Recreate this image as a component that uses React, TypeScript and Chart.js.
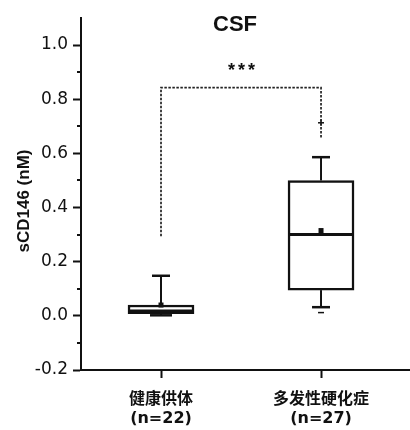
import React, { useEffect, useRef } from 'react';
import { Chart, registerables } from 'chart.js';

Chart.register(...registerables);

// ---- data ----
const categories = ['健康供体', '多发性硬化症'];
const sampleSizes = ['(n=22)', '(n=27)'];
const positions = [1, 2];
const q1 = [0.008, 0.095];
const medians = [0.018, 0.3];
const q3 = [0.04, 0.5];
const whiskerLow = [0.002, 0.032];
const whiskerHigh = [0.148, 0.586];
const means = [0.04, 0.315];
const minMarks: (number | null)[] = [null, 0.012];
const maxMarks: (number | null)[] = [null, 0.713];
const bracketLeft = 0.294;
const bracketTop = 0.843;
const bracketRight = 0.659;
const sigLabel = '***';
const chartTitle = 'CSF';
const yTitle = 'sCD146 (nM)';
const yTickValues = [-0.2, -0.1, 0, 0.1, 0.2, 0.3, 0.4, 0.5, 0.6, 0.7, 0.8, 0.9, 1.0];
const yMin = -0.2;
const yMax = 1.1;
const xMin = 0.5;
const xMax = 2.556;

const isMajor = (v: number) => Math.round(v * 10) % 2 === 0;
const INK = '#111';

const extrasPlugin = {
  id: 'boxExtras',
  afterDatasetsDraw(chart: any) {
    const { ctx, scales } = chart;
    const x = scales.x;
    const y = scales.y;
    const py = (v: number) => y.getPixelForValue(v);
    const line = (x1: number, y1: number, x2: number, y2: number) => {
      ctx.beginPath();
      ctx.moveTo(x1, y1);
      ctx.lineTo(x2, y2);
      ctx.stroke();
    };
    ctx.save();
    ctx.strokeStyle = INK;
    ctx.fillStyle = INK;
    positions.forEach((p, i) => {
      const cx = x.getPixelForValue(p);
      const half = 33;
      // whiskers
      ctx.lineWidth = 2;
      line(cx, py(q3[i]), cx, py(whiskerHigh[i]));
      line(cx, py(q1[i]), cx, py(whiskerLow[i]));
      // caps
      ctx.lineWidth = 2.5;
      line(cx - 9, py(whiskerHigh[i]), cx + 9, py(whiskerHigh[i]));
      line(cx - (i === 0 ? 11 : 9), py(whiskerLow[i]), cx + (i === 0 ? 11 : 9), py(whiskerLow[i]));
      // median
      ctx.lineWidth = 3;
      line(cx - half + 1, py(medians[i]), cx + half - 1, py(medians[i]));
      // mean
      ctx.fillRect(cx - 2.5, py(means[i]) - 2.5, 5, 5);
      // min / max marks
      const mn = minMarks[i];
      if (mn !== null) {
        ctx.lineWidth = 1.5;
        line(cx - 3, py(mn), cx + 3, py(mn));
      }
      const mx = maxMarks[i];
      if (mx !== null) {
        ctx.lineWidth = 1.5;
        line(cx - 3, py(mx), cx + 3, py(mx));
        line(cx, py(mx) - 3, cx, py(mx) + 3);
      }
    });
    // significance bracket
    const lx = x.getPixelForValue(positions[0]);
    const rx = x.getPixelForValue(positions[1]);
    ctx.strokeStyle = '#222';
    ctx.lineWidth = 1.7;
    ctx.setLineDash([2.5, 1.5]);
    ctx.beginPath();
    ctx.moveTo(lx, py(bracketLeft));
    ctx.lineTo(lx, py(bracketTop));
    ctx.lineTo(rx, py(bracketTop));
    ctx.lineTo(rx, py(bracketRight));
    ctx.stroke();
    ctx.setLineDash([]);
    // stars
    ctx.fillStyle = INK;
    ctx.font = 'bold 18px "Liberation Sans"';
    ctx.textAlign = 'center';
    ctx.textBaseline = 'middle';
    (ctx as any).letterSpacing = '3px';
    ctx.fillText(sigLabel, (lx + rx) / 2 + 2, py(bracketTop) - 17);
    (ctx as any).letterSpacing = '0px';
    ctx.restore();
  },
  afterDraw(chart: any) {
    const { ctx, scales } = chart;
    const y = scales.y;
    const area = chart.chartArea;
    ctx.save();
    // minor ticks
    ctx.strokeStyle = INK;
    ctx.lineWidth = 2;
    yTickValues.forEach((v) => {
      if (!isMajor(v)) {
        const yy = Math.round(y.getPixelForValue(v));
        ctx.beginPath();
        ctx.moveTo(area.left - 4, yy);
        ctx.lineTo(area.left, yy);
        ctx.stroke();
      }
    });
    // title
    ctx.fillStyle = INK;
    ctx.font = 'bold 22px "Liberation Sans"';
    ctx.textAlign = 'center';
    ctx.textBaseline = 'middle';
    ctx.fillText(chartTitle, 235, 25);
    // y title
    ctx.translate(24, 201);
    ctx.rotate(-Math.PI / 2);
    ctx.font = 'bold 17px "Liberation Sans"';
    ctx.fillText(yTitle, 0, 0);
    ctx.restore();
  },
};

export default function App() {
  const ref = useRef<HTMLCanvasElement | null>(null);
  useEffect(() => {
    if (!ref.current) return;
    const chart = new Chart(ref.current, {
      type: 'bar',
      data: {
        datasets: [
          {
            data: positions.map((p, i) => ({ x: p, y: [q1[i], q3[i]] })) as any,
            backgroundColor: '#fff',
            borderColor: INK,
            borderWidth: 2.5,
            borderSkipped: false,
            barThickness: 66,
            grouped: false,
          } as any,
        ],
      },
      options: {
        animation: false,
        responsive: false,
        maintainAspectRatio: false,
        layout: { padding: { top: 18, left: 0, right: 0, bottom: 0 } },
        plugins: { legend: { display: false }, tooltip: { enabled: false }, title: { display: false } },
        scales: {
          x: {
            type: 'linear',
            min: xMin,
            max: xMax,
            offset: false,
            afterBuildTicks: (scale: any) => {
              scale.ticks = positions.map((p) => ({ value: p }));
            },
            afterFit: (scale: any) => {
              scale.height = 60;
            },
            grid: { offset: false, drawOnChartArea: false, tickLength: 8, tickColor: INK, tickWidth: 2 },
            border: { color: INK, width: 2 },
            ticks: {
              autoSkip: false,
              padding: 12,
              color: INK,
              font: { family: '"DejaVu Sans", "Noto Sans CJK SC"', size: 16, weight: 'bold', lineHeight: 1.2 },
              callback: (v: any) => {
                const i = positions.indexOf(Number(v));
                return i >= 0 ? [categories[i], sampleSizes[i]] : '';
              },
            },
          },
          y: {
            type: 'linear',
            min: yMin,
            max: yMax,
            afterBuildTicks: (scale: any) => {
              scale.ticks = yTickValues.map((v) => ({ value: v }));
            },
            afterFit: (scale: any) => {
              scale.width = 81;
            },
            grid: {
              drawOnChartArea: false,
              tickLength: 8,
              tickWidth: 2,
              tickColor: (c: any) => (c.tick && isMajor(c.tick.value) ? INK : 'rgba(0,0,0,0)'),
            },
            border: { color: INK, width: 2 },
            ticks: {
              autoSkip: false,
              padding: 5,
              color: INK,
              font: { family: '"DejaVu Sans"', size: 17 },
              callback: (v: any) => (isMajor(Number(v)) ? Number(v).toFixed(1) : ''),
            },
          },
        },
      } as any,
      plugins: [extrasPlugin],
    });
    return () => chart.destroy();
  }, []);
  return (
    <div style={{ position: 'fixed', left: 0, top: 0, width: 410, height: 430, background: '#fff' }}>
      <canvas ref={ref} width={410} height={430} />
    </div>
  );
}
